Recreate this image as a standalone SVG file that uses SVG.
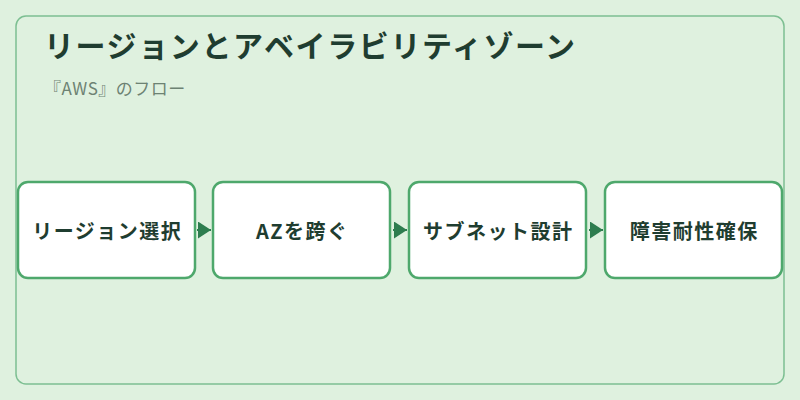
<svg xmlns="http://www.w3.org/2000/svg" width="800" height="400" viewBox="0 0 800 400">
<style>
.node rect{fill:#ffffff;stroke:#4ea86c;stroke-width:2.5}
.node text{font-family:"Noto Sans CJK JP","Noto Sans",sans-serif;font-weight:700;font-size:20px;letter-spacing:1.5px;fill:#1f3d30;text-anchor:middle;dominant-baseline:central}
.conn line{stroke:#2e7d4f;stroke-width:2}
</style>
<defs>
<marker id="arr" viewBox="0 0 13 17" refX="13" refY="8.5" markerWidth="13" markerHeight="17" markerUnits="userSpaceOnUse" orient="auto">
<path d="M0,0 L13,8.5 L0,17 Z" fill="#2e7d4f"/>
</marker>
</defs>
<rect width="800" height="400" fill="#dff1df"/>
<rect x="16" y="16" width="768" height="368" rx="10" fill="#dff1df" stroke="#7dbf92" stroke-width="1.5"/>
<text x="44" y="57" font-family="Noto Sans CJK JP,Noto Sans,sans-serif" font-weight="700" font-size="30" fill="#1f3d30" letter-spacing="1.6">リージョンとアベイラビリティゾーン</text>
<text x="44" y="95" font-family="Noto Sans CJK JP,Noto Sans,sans-serif" font-size="17" fill="#6d8273" letter-spacing="0.5">『AWS』のフロー</text>
<g id="connectors" class="conn">
<line x1="197" y1="230" x2="211" y2="230" marker-end="url(#arr)"/>
<line x1="393" y1="230" x2="407" y2="230" marker-end="url(#arr)"/>
<line x1="589" y1="230" x2="603" y2="230" marker-end="url(#arr)"/>
</g>
<g id="node1" class="node"><rect x="18" y="182" width="177" height="96" rx="10"/><text x="107.2" y="230">リージョン選択</text></g>
<g id="node2" class="node"><rect x="213" y="182" width="177" height="96" rx="10"/><text x="302.2" y="230">AZを跨ぐ</text></g>
<g id="node3" class="node"><rect x="409" y="182" width="177" height="96" rx="10"/><text x="498.2" y="230">サブネット設計</text></g>
<g id="node4" class="node"><rect x="605" y="182" width="177" height="96" rx="10"/><text x="694.2" y="230">障害耐性確保</text></g>
</svg>
